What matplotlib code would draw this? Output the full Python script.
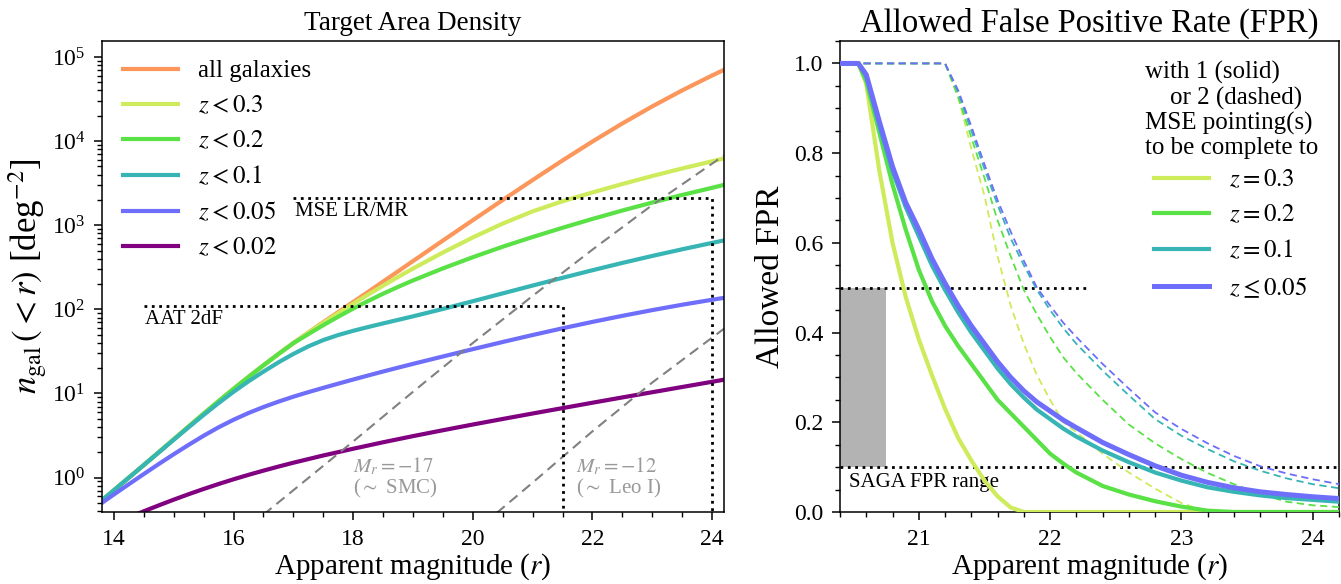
"""Target area density and allowed FPR, two panels."""
import matplotlib
matplotlib.use("Agg")
import matplotlib.pyplot as plt
import numpy as np
from matplotlib.patches import Rectangle
from matplotlib.ticker import MultipleLocator

plt.rcParams["font.family"] = "serif"
plt.rcParams["font.serif"] = ["Liberation Serif", "DejaVu Serif"]
plt.rcParams["mathtext.fontset"] = "stix"

# ── left panel: log10 of cumulative density n(<r) per deg^2 ────────────────
r_left = [13.8, 14.0, 14.25, 14.5, 14.75, 15.0, 15.25, 15.5, 15.75, 16.0, 16.25, 16.5,
          16.75, 17.0, 17.25, 17.5, 17.75, 18.0, 18.25, 18.5, 18.75, 19.0, 19.5, 20.0,
          20.5, 21.0, 21.5, 22.0, 22.5, 23.0, 23.5, 24.0, 24.2]
logn_all = [-0.27, -0.15, 0.0, 0.15, 0.302, 0.455, 0.608, 0.76, 0.909, 1.055, 1.197, 1.335,
            1.469, 1.60, 1.725, 1.848, 1.968, 2.088, 2.208, 2.33, 2.452, 2.574, 2.818, 3.06,
            3.30, 3.537, 3.77, 3.995, 4.21, 4.413, 4.603, 4.78, 4.848]
logn_z03 = [-0.27, -0.15, 0.0, 0.15, 0.302, 0.455, 0.608, 0.76, 0.909, 1.055, 1.197, 1.335,
            1.469, 1.60, 1.722, 1.84, 1.955, 2.067, 2.176, 2.282, 2.385, 2.485, 2.676, 2.855,
            3.02, 3.165, 3.285, 3.39, 3.49, 3.585, 3.675, 3.76, 3.795]
logn_z02 = [-0.27, -0.15, 0.0, 0.15, 0.302, 0.455, 0.608, 0.76, 0.909, 1.055, 1.197, 1.335,
            1.469, 1.598, 1.706, 1.812, 1.913, 2.009, 2.10, 2.186, 2.267, 2.344, 2.487, 2.62,
            2.745, 2.86, 2.97, 3.075, 3.175, 3.27, 3.36, 3.445, 3.48]
logn_z01 = [-0.27, -0.15, 0.0, 0.15, 0.30, 0.45, 0.599, 0.745, 0.886, 1.02, 1.145, 1.26,
            1.37, 1.47, 1.56, 1.635, 1.695, 1.745, 1.79, 1.833, 1.875, 1.917, 2.005, 2.097,
            2.19, 2.283, 2.375, 2.465, 2.552, 2.635, 2.714, 2.79, 2.82]
logn_z005 = [-0.30, -0.20, -0.078, 0.043, 0.162, 0.278, 0.39, 0.498, 0.598, 0.688, 0.768,
             0.839, 0.903, 0.962, 1.016, 1.067, 1.117, 1.166, 1.214, 1.261, 1.307, 1.352,
             1.44, 1.527, 1.612, 1.695, 1.775, 1.851, 1.923, 1.991, 2.055, 2.114, 2.137]
r_z002 = [14.4, 14.5, 14.75, 15.0, 15.25, 15.5, 15.75, 16.0, 16.25, 16.5, 16.75, 17.0,
          17.5, 18.0, 18.5, 19.0, 19.5, 20.0, 20.5, 21.0, 21.5, 22.0, 22.5, 23.0, 23.5,
          24.0, 24.2]
logn_z002 = [-0.43, -0.40, -0.33, -0.262, -0.197, -0.135, -0.076, -0.02, 0.033, 0.083,
             0.131, 0.177, 0.263, 0.343, 0.42, 0.493, 0.563, 0.631, 0.697, 0.762, 0.826,
             0.89, 0.953, 1.015, 1.077, 1.139, 1.164]

# fixed-absolute-magnitude tracks
r_m17 = [16.5, 17.0, 18.0, 19.0, 20.0, 21.0, 22.0, 23.0, 24.2]
logn_m17 = [-0.44, -0.15, 0.43, 1.02, 1.60, 2.16, 2.71, 3.24, 3.83]
r_m12 = [20.4, 21.0, 22.0, 23.0, 24.2]
logn_m12 = [-0.42, -0.06, 0.55, 1.13, 1.77]

# instrument densities (deg^-2) and magnitude limits
mse_density, mse_rlim = 2100, 24.0
aat_density, aat_rlim = 110, 21.5

# ── right panel: allowed FPR ───────────────────────────────────────────────
r_fpr = [20.4, 20.54, 20.6, 20.7, 20.8, 20.9, 21.0, 21.1, 21.2, 21.3, 21.4, 21.5,
         21.6, 21.7, 21.8, 21.9, 22.0, 22.1, 22.2, 22.4, 22.6, 22.8, 23.0, 23.2,
         23.4, 23.6, 23.8, 24.0, 24.2]
fpr1_z03 = [1.0, 1.0, 0.955, 0.76, 0.60, 0.48, 0.385, 0.305, 0.23, 0.165, 0.115, 0.07,
            0.035, 0.01, 0, 0, 0, 0, 0, 0, 0, 0, 0, 0, 0, 0, 0, 0, 0]
fpr1_z02 = [1.0, 1.0, 0.96, 0.845, 0.73, 0.63, 0.54, 0.47, 0.415, 0.37, 0.33, 0.29,
            0.25, 0.22, 0.19, 0.16, 0.13, 0.108, 0.088, 0.058, 0.039, 0.024, 0.012,
            0.003, 0, 0, 0, 0, 0]
fpr1_z01 = [1.0, 1.0, 0.97, 0.86, 0.76, 0.68, 0.615, 0.55, 0.495, 0.445, 0.40, 0.36,
            0.32, 0.285, 0.255, 0.228, 0.207, 0.186, 0.168, 0.137, 0.111, 0.088, 0.070,
            0.055, 0.045, 0.037, 0.031, 0.027, 0.023]
fpr1_z005 = [1.0, 1.0, 0.975, 0.87, 0.77, 0.69, 0.63, 0.565, 0.51, 0.46, 0.415, 0.375,
             0.335, 0.30, 0.27, 0.245, 0.225, 0.205, 0.188, 0.155, 0.128, 0.103, 0.082,
             0.066, 0.054, 0.045, 0.039, 0.034, 0.030]
fpr2_z03 = [1.0, 1.0, 1.0, 1.0, 1.0, 1.0, 1.0, 1.0, 1.0, 0.925, 0.81, 0.705,
            0.57, 0.46, 0.375, 0.305, 0.25, 0.20, 0.178, 0.13, 0.088, 0.052, 0.02,
            0, 0, 0, 0, 0, 0]
fpr2_z02 = [1.0, 1.0, 1.0, 1.0, 1.0, 1.0, 1.0, 1.0, 1.0, 0.925, 0.835, 0.745,
            0.65, 0.57, 0.495, 0.44, 0.39, 0.345, 0.31, 0.25, 0.195, 0.153, 0.118,
            0.087, 0.062, 0.040, 0.023, 0.015, 0.011]
fpr2_z01 = [1.0, 1.0, 1.0, 1.0, 1.0, 1.0, 1.0, 1.0, 1.0, 0.935, 0.85, 0.765,
            0.685, 0.61, 0.55, 0.495, 0.45, 0.41, 0.375, 0.315, 0.26, 0.207, 0.17,
            0.14, 0.113, 0.092, 0.075, 0.062, 0.053]
fpr2_z005 = [1.0, 1.0, 1.0, 1.0, 1.0, 1.0, 1.0, 1.0, 1.0, 0.94, 0.86, 0.775,
             0.695, 0.625, 0.56, 0.50, 0.46, 0.422, 0.39, 0.33, 0.275, 0.222, 0.185,
             0.153, 0.125, 0.102, 0.086, 0.073, 0.062]

saga_fpr = (0.1, 0.5)
saga_r = (20.4, 20.75)

C_ALL = "#fc965a"
C_Z03 = "#cdeb5a"
C_Z02 = "#5ae146"
C_Z01 = "#37b4b4"
C_Z005 = "#6e6efa"
C_Z002 = "#800080"


def style_axes(ax):
    ax.tick_params(which="major", direction="out", length=6, width=1.1, labelsize=17, pad=6)
    ax.tick_params(which="minor", direction="out", length=3.5, width=1.0)
    for s in ax.spines.values():
        s.set_linewidth(1.1)


def main():
    fig = plt.figure(figsize=(13.41, 5.84), dpi=100)
    ax1 = fig.add_axes([102 / 1341, 72 / 584, 622 / 1341, 471 / 584])
    ax2 = fig.add_axes([840 / 1341, 72 / 584, 499 / 1341, 471 / 584])

    # ── left ──────────────────────────────────────────────────────────────
    lw = 3.0
    pw = lambda a: 10 ** np.asarray(a)
    ax1.plot(r_left, pw(logn_all), color=C_ALL, lw=lw, label="all galaxies")
    ax1.plot(r_left, pw(logn_z03), color=C_Z03, lw=lw, label=r"$z < 0.3$")
    ax1.plot(r_left, pw(logn_z02), color=C_Z02, lw=lw, label=r"$z < 0.2$")
    ax1.plot(r_left, pw(logn_z01), color=C_Z01, lw=lw, label=r"$z < 0.1$")
    ax1.plot(r_left, pw(logn_z005), color=C_Z005, lw=lw, label=r"$z < 0.05$")
    ax1.plot(r_z002, pw(logn_z002), color=C_Z002, lw=lw, label=r"$z < 0.02$")

    ax1.plot(r_m17, pw(logn_m17), color="gray", lw=1.5, ls=(0, (5, 3)))
    ax1.plot(r_m12, pw(logn_m12), color="gray", lw=1.5, ls=(0, (5, 3)))

    ax1.plot([17.0, mse_rlim, mse_rlim], [mse_density, mse_density, 0.01], color="k", lw=2, ls=":")
    ax1.plot([14.5, aat_rlim, aat_rlim], [aat_density, aat_density, 0.01], color="k", lw=2, ls=":")
    ax1.text(17.02, 1900, "MSE LR/MR", fontsize=15, va="top", ha="left")
    ax1.text(14.52, 98, "AAT 2dF", fontsize=15, va="top", ha="left")
    ax1.text(18.0, 1.85, "$M_r = -17$\n($\\sim$ SMC)", fontsize=15, color="#999999",
             va="top", ha="left", linespacing=1.0)
    ax1.text(21.72, 1.85, "$M_r = -12$\n($\\sim$ Leo I)", fontsize=15, color="#999999",
             va="top", ha="left", linespacing=1.0)

    ax1.set_yscale("log")
    ax1.set_xlim(13.8, 24.2)
    ax1.set_ylim(0.39, 1.55e5)
    ax1.xaxis.set_major_locator(MultipleLocator(2))
    ax1.xaxis.set_minor_locator(MultipleLocator(0.5))
    style_axes(ax1)
    ax1.set_xlabel("Apparent magnitude ($r$)", fontsize=21, labelpad=1)
    ax1.set_ylabel(r"$n_{\rm gal}\,(<r)$ [deg$^{-2}$]", fontsize=25, labelpad=2)
    ax1.set_title("Target Area Density", fontsize=19.5, pad=8)
    ax1.legend(loc="upper left", bbox_to_anchor=(0.033, 0.96), frameon=False, fontsize=18,
               handlelength=2.2, handletextpad=0.8, labelspacing=0.5, borderaxespad=0,
               borderpad=0)

    # ── right ─────────────────────────────────────────────────────────────
    ax2.add_patch(Rectangle((saga_r[0], saga_fpr[0]), saga_r[1] - saga_r[0],
                            saga_fpr[1] - saga_fpr[0], facecolor="#b3b3b3", edgecolor="none", zorder=1))
    ax2.plot([20.4, 22.3], [saga_fpr[1]] * 2, color="k", lw=2, ls=":", zorder=2)
    ax2.plot([20.4, 24.2], [saga_fpr[0]] * 2, color="k", lw=2, ls=":", zorder=2)
    ax2.text(20.47, 0.088, "SAGA FPR range", fontsize=15, va="top", ha="left")

    for vals, c in [(fpr2_z03, C_Z03), (fpr2_z02, C_Z02), (fpr2_z01, C_Z01), (fpr2_z005, C_Z005)]:
        ax2.plot(r_fpr, vals, color=c, lw=1.3, ls=(0, (4, 2.5)), zorder=3)
    ax2.plot(r_fpr, fpr1_z03, color=C_Z03, lw=3.0, zorder=4, label=r"$z = 0.3$")
    ax2.plot(r_fpr, fpr1_z02, color=C_Z02, lw=3.0, zorder=4, label=r"$z = 0.2$")
    ax2.plot(r_fpr, fpr1_z01, color=C_Z01, lw=3.0, zorder=4, label=r"$z = 0.1$")
    ax2.plot(r_fpr, fpr1_z005, color=C_Z005, lw=3.6, zorder=4, label=r"$z \leq 0.05$")

    ax2.set_xlim(20.4, 24.2)
    ax2.set_ylim(0, 1.05)
    ax2.xaxis.set_major_locator(MultipleLocator(1))
    ax2.xaxis.set_minor_locator(MultipleLocator(0.2))
    ax2.yaxis.set_major_locator(MultipleLocator(0.2))
    ax2.yaxis.set_minor_locator(MultipleLocator(0.05))
    style_axes(ax2)
    ax2.set_xlabel("Apparent magnitude ($r$)", fontsize=21, labelpad=1)
    ax2.set_ylabel("Allowed FPR", fontsize=24, labelpad=6)
    ax2.set_title("Allowed False Positive Rate (FPR)", fontsize=23.5, pad=7)
    ax2.text(0.611, 0.957, "with 1 (solid)\n    or 2 (dashed)\nMSE pointing(s)\nto be complete to",
             transform=ax2.transAxes, fontsize=18, va="top", ha="left", linespacing=1.12)
    ax2.legend(loc="upper left", bbox_to_anchor=(0.629, 0.728), frameon=False, fontsize=18,
               handlelength=2.2, handletextpad=0.8, labelspacing=0.5, borderaxespad=0,
               borderpad=0)

    fig.savefig("out.png", dpi=100, facecolor="white")
    plt.close(fig)


if __name__ == "__main__":
    main()
